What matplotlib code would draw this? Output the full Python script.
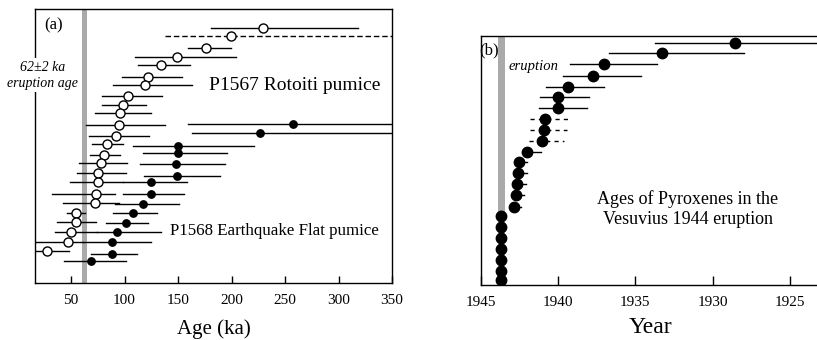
import matplotlib
matplotlib.use("Agg")
import matplotlib.pyplot as plt

plt.rcParams["font.family"] = ["Liberation Serif", "DejaVu Serif"]

# -------------------------------------------------------
# (a) Taupo pumices: age, 2-sigma range, row position
# -------------------------------------------------------
rot_age = [229.5, 199.8, 176.6, 149.0, 133.8, 121.7, 119.5, 103.0, 98.4, 96.0,
           95.3, 91.6, 83.8, 80.7, 78.2, 75.4, 75.4, 73.0, 72.3, 55.0,
           55.0, 49.8, 47.2, 27.1]
rot_lo = [180.5, 138.0, 159.8, 110.0, 112.4, 97.8, 89.0, 79.0, 79.0, 72.7,
          63.7, 66.8, 69.9, 67.4, 57.4, 55.5, 48.8, 32.3, 42.5, 46.5,
          36.5, 34.9, 10.0, 10.0]
rot_hi = [318.6, 360.0, 199.2, 204.5, 161.0, 153.6, 162.8, 135.0, 120.0, 124.8,
          138.0, 123.3, 98.4, 96.0, 102.5, 101.6, 98.4, 90.7, 95.0, 62.8,
          73.6, 74.0, 61.0, 48.0]
rot_row = [28.3, 36.0, 48.3, 57.0, 65.3, 76.7, 85.0, 96.0, 105.3, 113.3,
           125.0, 135.7, 144.0, 155.0, 163.3, 173.3, 182.3, 194.0, 203.3, 213.3,
           222.0, 231.5, 242.0, 251.0]
rot_dashed = [1]   # index of rows drawn dashed

eqf_age = [257.9, 227.0, 150.4, 150.0, 147.9, 149.0, 124.8, 124.8, 117.0, 107.7,
           101.6, 92.8, 88.1, 88.4, 69.0]
eqf_lo = [159.5, 163.5, 107.7, 117.7, 114.9, 118.0, 98.4, 98.4, 90.7, 89.0,
          83.0, 74.0, 61.0, 69.0, 43.0]
eqf_hi = [360.0, 360.0, 221.0, 195.5, 193.6, 188.9, 158.8, 155.8, 151.0, 130.0,
          122.0, 134.0, 124.8, 112.0, 101.6]
eqf_row = [124.3, 132.7, 145.7, 152.7, 164.3, 175.7, 182.3, 194.3, 204.3, 212.7,
           223.3, 231.7, 242.0, 253.5, 261.0]

age_ticks = [50, 100, 150, 200, 250, 300, 350]

# -------------------------------------------------------
# (b) Vesuvius 1944 pyroxenes
# -------------------------------------------------------
ves_year = [1928.56, 1933.28, 1937.06, 1937.73, 1939.35, 1940.0, 1940.04,
            1940.86, 1940.9, 1941.05, 1942.0, 1942.56, 1942.63, 1942.67,
            1942.7, 1942.85, 1943.7, 1943.7, 1943.7, 1943.7, 1943.7, 1943.7, 1943.7]
ves_lo = [1933.72, 1936.74, 1939.24, 1939.72, 1940.8, 1941.19, 1941.27,
          1941.83, 1941.83, 1941.88, 1942.0, 1942.56, 1942.63, 1942.67,
          1942.7, 1942.85, 1943.7, 1943.7, 1943.7, 1943.7, 1943.7, 1943.7, 1943.7]
ves_hi = [1922.0, 1927.99, 1933.63, 1934.64, 1937.06, 1937.99, 1938.16,
          1939.39, 1939.4, 1939.65, 1941.12, 1942.05, 1942.05, 1942.1,
          1942.2, 1942.4, 1943.7, 1943.7, 1943.7, 1943.7, 1943.7, 1943.7, 1943.7]
ves_row = [42.7, 53.3, 64.3, 76.0, 86.7, 97.3, 107.7, 119.3, 129.6, 141.3,
           152.0, 162.0, 173.0, 184.0, 195.5, 206.7, 216.5, 227.3, 238.3,
           249.3, 260.0, 270.7, 280.0]
ves_dashed = [7, 8, 9]

year_ticks = [1945, 1940, 1935, 1930, 1925]

# -------------------------------------------------------
# Figure
# -------------------------------------------------------
fig = plt.figure(figsize=(8.17, 3.4), dpi=100)
ax1 = fig.add_axes([0.0428, 0.1676, 0.4370, 0.8059])
ax2 = fig.add_axes([0.5887, 0.1618, 0.4140, 0.7332])

# ---- (a) ----
ax1.axvspan(60, 65, color="#aaaaaa", lw=0, zorder=1)
for i in range(len(rot_age)):
    ls = (0, (4, 2)) if i in rot_dashed else "-"
    ax1.plot([rot_lo[i], rot_hi[i]], [rot_row[i]] * 2, color="black",
             lw=1.0, ls=ls, zorder=2)
for i in range(len(eqf_age)):
    ax1.plot([eqf_lo[i], eqf_hi[i]], [eqf_row[i]] * 2, color="black",
             lw=1.0, zorder=2)
ax1.plot(rot_age, rot_row, "o", ms=6.5, mfc="white", mec="black", mew=1.0, zorder=3)
ax1.plot(eqf_age, eqf_row, "o", ms=5.3, mfc="black", mec="black", zorder=3)

ax1.set_xlim(16.3, 350)
ax1.set_ylim(283, 9)
ax1.set_xticks(age_ticks)
ax1.set_yticks([])
ax1.tick_params(axis="x", direction="in", length=5, width=1, pad=8, labelsize=11)
ax1.set_xlabel("Age (ka)", fontsize=15, labelpad=9)
for s in ax1.spines.values():
    s.set_linewidth(1.0)

ax1.text(0.052, 0.94, "(a)", transform=ax1.transAxes, fontsize=12,
         ha="center", va="center")
ax1.text(23.7, 75, "62±2 ka\neruption age", fontsize=10, style="italic",
         ha="center", va="center", linespacing=1.3, zorder=5, clip_on=False,
         bbox=dict(facecolor="white", edgecolor="none", pad=1.5))
ax1.text(259, 85, "P1567 Rotoiti pumice", fontsize=14, ha="center", va="center")
ax1.text(240, 231, "P1568 Earthquake Flat pumice", fontsize=12.2,
         ha="center", va="center")

# ---- (b) ----
ax2.axvspan(1943.45, 1943.9, color="#aaaaaa", lw=0, zorder=1)
for i in range(len(ves_year)):
    ls = (0, (3, 3)) if i in ves_dashed else "-"
    ax2.plot([ves_lo[i], ves_hi[i]], [ves_row[i]] * 2, color="black",
             lw=1.0, ls=ls, zorder=2)
ax2.plot(ves_year, ves_row, "o", ms=7.5, mfc="black", mec="black", zorder=3)

ax2.set_xlim(1945, 1923.1)
ax2.set_ylim(285, 35.7)
ax2.set_xticks(year_ticks)
ax2.set_yticks([])
ax2.tick_params(axis="x", direction="in", length=6.5, width=1, pad=8, labelsize=11)
ax2.set_xlabel("Year", fontsize=17, labelpad=6)
for s in ax2.spines.values():
    s.set_linewidth(1.0)

ax2.text(0.025, 0.94, "(b)", transform=ax2.transAxes, fontsize=12,
         ha="center", va="center")
ax2.text(1941.58, 67, "eruption", fontsize=10.5, style="italic",
         ha="center", va="center")
ax2.text(1931.6, 209, "Ages of Pyroxenes in the\nVesuvius 1944 eruption",
         fontsize=13, ha="center", va="center", linespacing=1.2)

fig.savefig("out.png", dpi=100)
